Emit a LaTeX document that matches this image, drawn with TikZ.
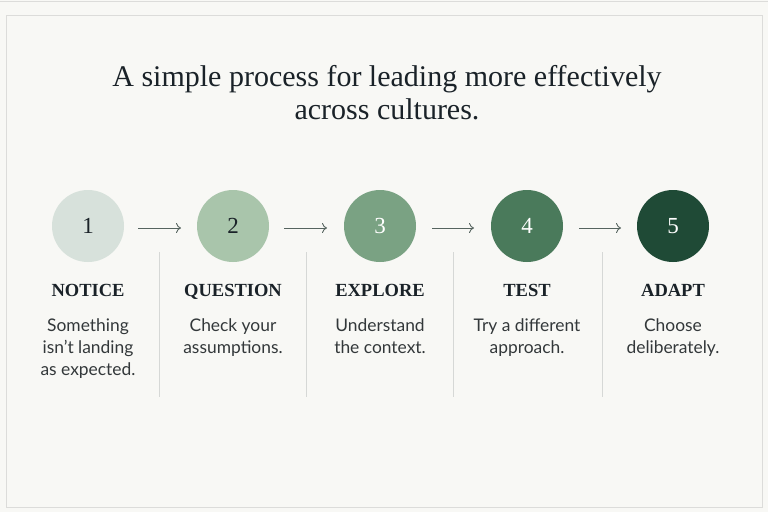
\documentclass[tikz,border=0pt]{standalone}
\usepackage{fontspec}
\setmainfont{Liberation Serif}
\newfontfamily\bodyfont{Lato}
\usetikzlibrary{arrows.meta}
\definecolor{bg}{HTML}{F8F8F5}
\definecolor{framec}{HTML}{DCDCDA}
\definecolor{ink}{HTML}{1A2228}
\definecolor{bodyink}{HTML}{33383A}
\definecolor{arrowc}{HTML}{56645F}
\definecolor{sepc}{HTML}{D6D8D6}
\definecolor{cA}{HTML}{D7E1DB}
\definecolor{cB}{HTML}{A9C5AB}
\definecolor{cC}{HTML}{7AA283}
\definecolor{cD}{HTML}{4A7A5B}
\definecolor{cE}{HTML}{1F4A36}
\tikzset{
  stepcircle/.style={circle, minimum size=72pt, inner sep=0pt, font=\fontsize{23}{23}\selectfont},
  steptitle/.style={font=\fontsize{18.5}{20}\selectfont\bfseries, text=ink, anchor=base},
  stepbody/.style={font=\bodyfont\fontsize{17.4}{22}\selectfont, text=bodyink, align=center},
  flowarrow/.style={draw=arrowc, line width=0.9pt, -{To[length=5pt,width=10pt]}},
  sepline/.style={draw=sepc, line width=0.8pt}
}
\begin{document}
\begin{tikzpicture}[x=1pt,y=-1pt]
\useasboundingbox (0,0) rectangle (768,512);
\fill[bg] (0,0) rectangle (768,512);
\draw[framec, line width=0.8pt] (0,1) -- (768,1);
\draw[framec, line width=0.9pt] (6,15) rectangle (762,507);
\node[font=\fontsize{30}{33}\selectfont, text=ink, align=center] (title) at (387,93)
  {A simple process for leading more effectively\\across cultures.};
\node[stepcircle, fill=cA, text=ink] (c1) at (88,226) {1};
\node[stepcircle, fill=cB, text=ink] (c2) at (233,226) {2};
\node[stepcircle, fill=cC, text=white] (c3) at (380,226) {3};
\node[stepcircle, fill=cD, text=white] (c4) at (527,226) {4};
\node[stepcircle, fill=cE, text=white] (c5) at (673,226) {5};
\coordinate (a1s) at (138,228); \coordinate (a1e) at (181,228);
\coordinate (a2s) at (284,228); \coordinate (a2e) at (327,228);
\coordinate (a3s) at (432,228); \coordinate (a3e) at (474,228);
\coordinate (a4s) at (579,228); \coordinate (a4e) at (621,228);
\draw[flowarrow] (a1s) -- (a1e);
\draw[flowarrow] (a2s) -- (a2e);
\draw[flowarrow] (a3s) -- (a3e);
\draw[flowarrow] (a4s) -- (a4e);
\foreach \x [count=\i] in {159,306,453,602} {
  \coordinate (s\i t) at (\x,252); \coordinate (s\i b) at (\x,397);
  \draw[sepline] (s\i t) -- (s\i b);
}
\node[steptitle] (t1) at (88,296) {NOTICE};
\node[steptitle] (t2) at (233,296) {QUESTION};
\node[steptitle] (t3) at (380,296) {EXPLORE};
\node[steptitle] (t4) at (527,296) {TEST};
\node[steptitle] (t5) at (673,296) {ADAPT};
\node[stepbody, anchor=north] (b1) at (88,315) {Something\\isn’t landing\\as expected.};
\node[stepbody, anchor=north] (b2) at (233,315) {Check your\\assumptions.};
\node[stepbody, anchor=north] (b3) at (380,315) {Understand\\the context.};
\node[stepbody, anchor=north] (b4) at (527,315) {Try a different\\approach.};
\node[stepbody, anchor=north] (b5) at (673,315) {Choose\\deliberately.};
\end{tikzpicture}
\end{document}
